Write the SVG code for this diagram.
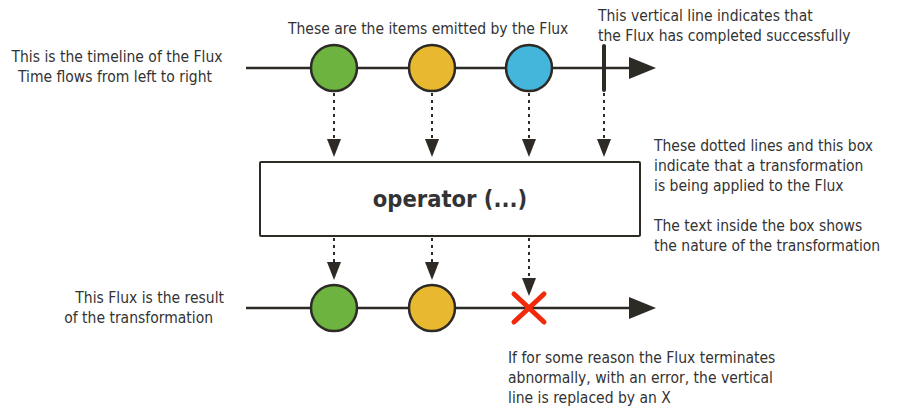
<svg xmlns="http://www.w3.org/2000/svg" width="907" height="417" viewBox="0 0 907 417">
<style>
.t{font-family:"DejaVu Sans Condensed","DejaVu Sans",sans-serif;font-size:15.5px;fill:#333}
.ln{stroke:#2e2b27;stroke-width:2.5;fill:none}
.dot{stroke:#2e2b27;stroke-width:2;stroke-dasharray:3,4;fill:none}
.c{stroke:#2e2b27;stroke-width:2.5}
.ah{fill:#2e2b27}
</style>
<rect width="907" height="417" fill="#fff"/>
<g id="connectors">
<line class="ln" x1="246" y1="68" x2="632" y2="68"/>
<polygon class="ah" points="629,57 656,68 629,79"/>
<line class="ln" x1="246" y1="308" x2="632" y2="308"/>
<polygon class="ah" points="629,297 656,308 629,319"/>
<line x1="604" y1="46" x2="604" y2="90" stroke="#2e2b27" stroke-width="4" stroke-linecap="round"/>
<line class="dot" x1="334" y1="93" x2="334" y2="142"/>
<polygon class="ah" points="327,139 341,139 334,157"/>
<line class="dot" x1="432" y1="93" x2="432" y2="142"/>
<polygon class="ah" points="425,139 439,139 432,157"/>
<line class="dot" x1="529" y1="93" x2="529" y2="142"/>
<polygon class="ah" points="522,139 536,139 529,157"/>
<line class="dot" x1="604" y1="93" x2="604" y2="142"/>
<polygon class="ah" points="597,139 611,139 604,157"/>
<line class="dot" x1="334" y1="238" x2="334" y2="265"/>
<polygon class="ah" points="327,262 341,262 334,280"/>
<line class="dot" x1="432" y1="238" x2="432" y2="265"/>
<polygon class="ah" points="425,262 439,262 432,280"/>
<line class="dot" x1="529" y1="238" x2="529" y2="280"/>
<polygon class="ah" points="522,278 536,278 529,296"/>
</g>
<g id="item1"><circle class="c" cx="334" cy="68" r="23" fill="#6cb33f"/></g>
<g id="item2"><circle class="c" cx="432" cy="68" r="23" fill="#e8b930"/></g>
<g id="item3"><circle class="c" cx="529" cy="68" r="23" fill="#44b6dc"/></g>
<g id="result1"><circle class="c" cx="334" cy="308" r="23" fill="#6cb33f"/></g>
<g id="result2"><circle class="c" cx="432" cy="308" r="23" fill="#e8b930"/></g>
<g id="error"><path d="M514,294 L544,322 M544,294 L514,322" stroke="#f02a0a" stroke-width="5" stroke-linecap="round"/></g>
<g id="operator">
<rect x="260" y="162" width="380" height="74" fill="#fff" stroke="#2e2b27" stroke-width="2" rx="1"/>
<text x="450" y="207" text-anchor="middle" style="font-family:'DejaVu Sans Condensed','DejaVu Sans',sans-serif;font-size:23.5px;font-weight:bold;fill:#333">operator (...)</text>
</g>
<g id="labels">
<text class="t" x="288" y="34">These are the items emitted by the Flux</text>
<text class="t" x="598" y="21">This vertical line indicates that</text>
<text class="t" x="598" y="41">the Flux has completed successfully</text>
<text class="t" x="117" y="62" text-anchor="middle">This is the timeline of the Flux</text>
<text class="t" x="115" y="82" text-anchor="middle">Time flows from left to right</text>
<text class="t" x="654" y="151">These dotted lines and this box</text>
<text class="t" x="654" y="171">indicate that a transformation</text>
<text class="t" x="654" y="191">is being applied to the Flux</text>
<text class="t" x="654" y="231">The text inside the box shows</text>
<text class="t" x="654" y="251">the nature of the transformation</text>
<text class="t" x="224" y="303" text-anchor="end">This Flux is the result</text>
<text class="t" x="213" y="323" text-anchor="end">of the transformation</text>
<text class="t" x="508" y="363">If for some reason the Flux terminates</text>
<text class="t" x="508" y="383">abnormally, with an error, the vertical</text>
<text class="t" x="508" y="403">line is replaced by an X</text>
</g>
</svg>
